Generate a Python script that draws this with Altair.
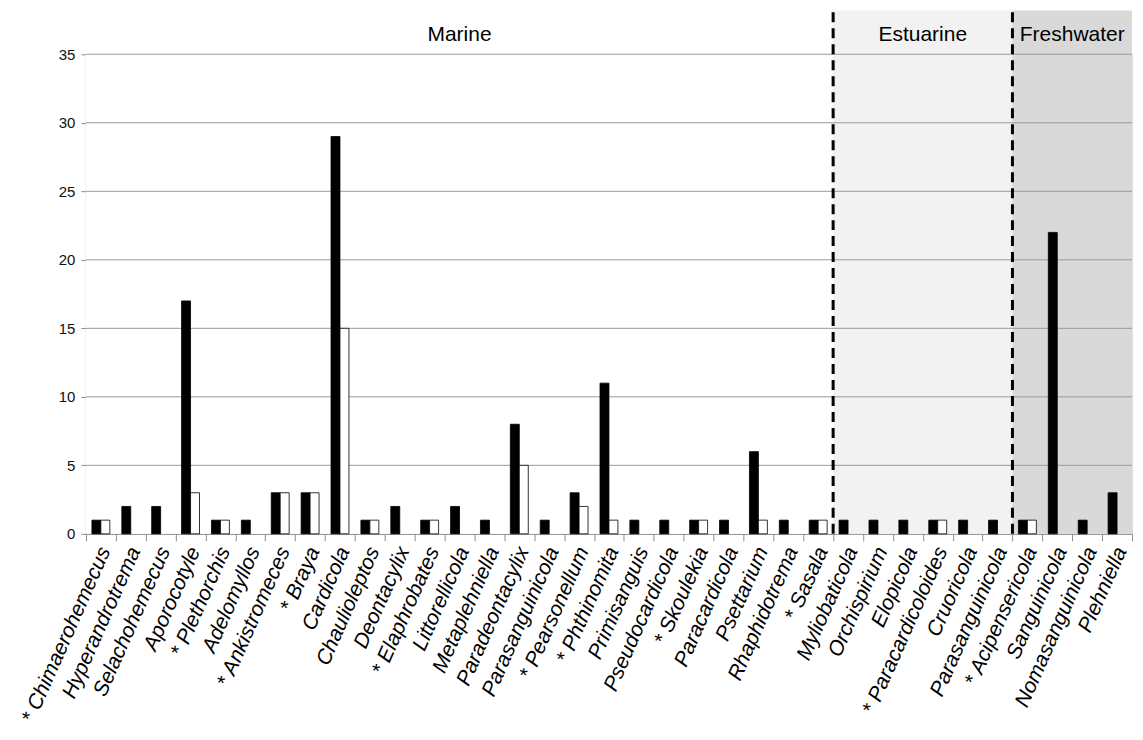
import json
import altair as alt
import pandas as pd

genera = [
    "* Chimaerohemecus", "Hyperandrotrema", "Selachohemecus", "Aporocotyle",
    "* Plethorchis", "Adelomyllos", "* Ankistromeces", "* Braya", "Cardicola",
    "Chaulioleptos", "Deontacylix", "* Elaphrobates", "Littorellicola",
    "Metaplehniella", "Paradeontacylix", "Parasanguinicola", "* Pearsonellum",
    "* Phthinomita", "Primisanguis", "Pseudocardicola", "* Skoulekia",
    "Paracardicola", "Psettarium", "Rhaphidotrema", "* Sasala",
    "Myliobaticola", "Orchispirium", "Elopicola", "* Paracardicoloides",
    "Cruoricola", "Parasanguinicola", "* Acipensericola", "Sanguinicola",
    "Nomasanguinicola", "Plehniella",
]
habitat = ["Marine"] * 25 + ["Estuarine"] * 6 + ["Freshwater"] * 4
black_vals = [1, 2, 2, 17, 1, 1, 3, 3, 29, 1, 2, 1, 2, 1, 8, 1, 3, 11, 1, 1,
              1, 1, 6, 1, 1, 1, 1, 1, 1, 1, 1, 1, 22, 1, 3]
white_vals = [1, 0, 0, 3, 1, 0, 3, 3, 15, 1, 0, 1, 0, 0, 5, 0, 2, 1, 0, 0,
              1, 0, 1, 0, 1, 0, 0, 0, 1, 0, 0, 1, 0, 0, 0]
regions = ["Marine", "Estuarine", "Freshwater"]
region_fill = ["#ffffff", "#f2f2f2", "#d9d9d9"]
y_ticks = [0, 5, 10, 15, 20, 25, 30, 35]
Y_TOP = 38.2
LABEL_Y = 36.4

N = len(genera)
W, H = 1047, 480
FONT = "Liberation Sans"

rows = []
for i in range(N):
    rows.append({"idx": i, "series": "a", "value": black_vals[i]})
    if white_vals[i] > 0:
        rows.append({"idx": i, "series": "b", "value": white_vals[i]})
bars_df = pd.DataFrame(rows)

reg_rows = []
pos = 0
for r in regions:
    cnt = habitat.count(r)
    reg_rows.append({"region": r, "start": pos, "end": pos + cnt,
                     "mid": pos + cnt / 2, "top": Y_TOP, "ly": LABEL_Y})
    pos += cnt
reg_df = pd.DataFrame(reg_rows)
div_df = pd.DataFrame({"b": [r["start"] for r in reg_rows[1:]], "y0": 0, "y1": Y_TOP})
grid_df = pd.DataFrame({"y": [t for t in y_ticks if t > 0], "x0": 0, "x1": N})

xq = alt.Scale(domain=[0, N], nice=False, zero=False)
yscale = alt.Scale(domain=[0, 35], nice=False)
yaxis = alt.Axis(title=None, values=y_ticks, grid=False, labelFontSize=15,
                 labelFont=FONT, labelColor="#111", tickSize=5,
                 tickColor="#8c8c8c", domainColor="#8c8c8c", labelPadding=6)

shade = alt.Chart(reg_df).mark_rect().encode(
    x=alt.X("start:Q", scale=xq, axis=None),
    x2="end:Q",
    y=alt.Y("top:Q", scale=yscale, axis=yaxis),
    y2=alt.datum(0),
    fill=alt.Fill("region:N", scale=alt.Scale(domain=regions, range=region_fill), legend=None),
)

grid = alt.Chart(grid_df).mark_rule(color="#9a9a9a", strokeWidth=1).encode(
    x=alt.X("x0:Q", scale=xq, axis=None),
    x2="x1:Q",
    y=alt.Y("y:Q", scale=yscale, axis=yaxis),
)

dividers = alt.Chart(div_df).mark_rule(color="black", strokeWidth=3, strokeDash=[10, 6]).encode(
    x=alt.X("b:Q", scale=xq, axis=None),
    y=alt.Y("y0:Q", scale=yscale, axis=yaxis),
    y2="y1:Q",
)

labels = alt.Chart(reg_df).mark_text(font=FONT, fontSize=21, color="black").encode(
    x=alt.X("mid:Q", scale=xq, axis=None),
    y=alt.Y("ly:Q", scale=yscale, axis=yaxis),
    text="region:N",
)

label_expr = json.dumps(genera) + "[datum.value]"
bars = alt.Chart(bars_df).mark_bar(stroke="black", strokeWidth=0.8).encode(
    x=alt.X("idx:O", scale=alt.Scale(paddingInner=0, paddingOuter=0),
            axis=alt.Axis(title=None, labelExpr=label_expr, labelAngle=-66,
                          labelAlign="right", labelBaseline="middle",
                          labelFontStyle="italic", labelFontSize=21,
                          labelFont=FONT, labelColor="black", labelLimit=400,
                          labelPadding=7, labelOffset=4, tickBand="extent", tickSize=7,
                          tickColor="#8c8c8c", domainColor="#8c8c8c",
                          grid=False)),
    xOffset=alt.XOffset("series:N", scale=alt.Scale(domain=["a", "b"], paddingOuter=0.667, paddingInner=0)),
    y=alt.Y("value:Q", scale=yscale, axis=yaxis),
    fill=alt.Fill("series:N", scale=alt.Scale(domain=["a", "b"], range=["black", "white"]), legend=None),
)

chart = alt.layer(shade, grid, dividers, bars, labels).resolve_scale(
    x="independent", fill="independent"
).properties(
    width=W, height=H, padding={"left": 9, "top": 0, "right": 2, "bottom": 0}
).configure_view(stroke=None).configure(font=FONT)

chart.save("out.html", embed_options={"renderer": "svg", "actions": False})
